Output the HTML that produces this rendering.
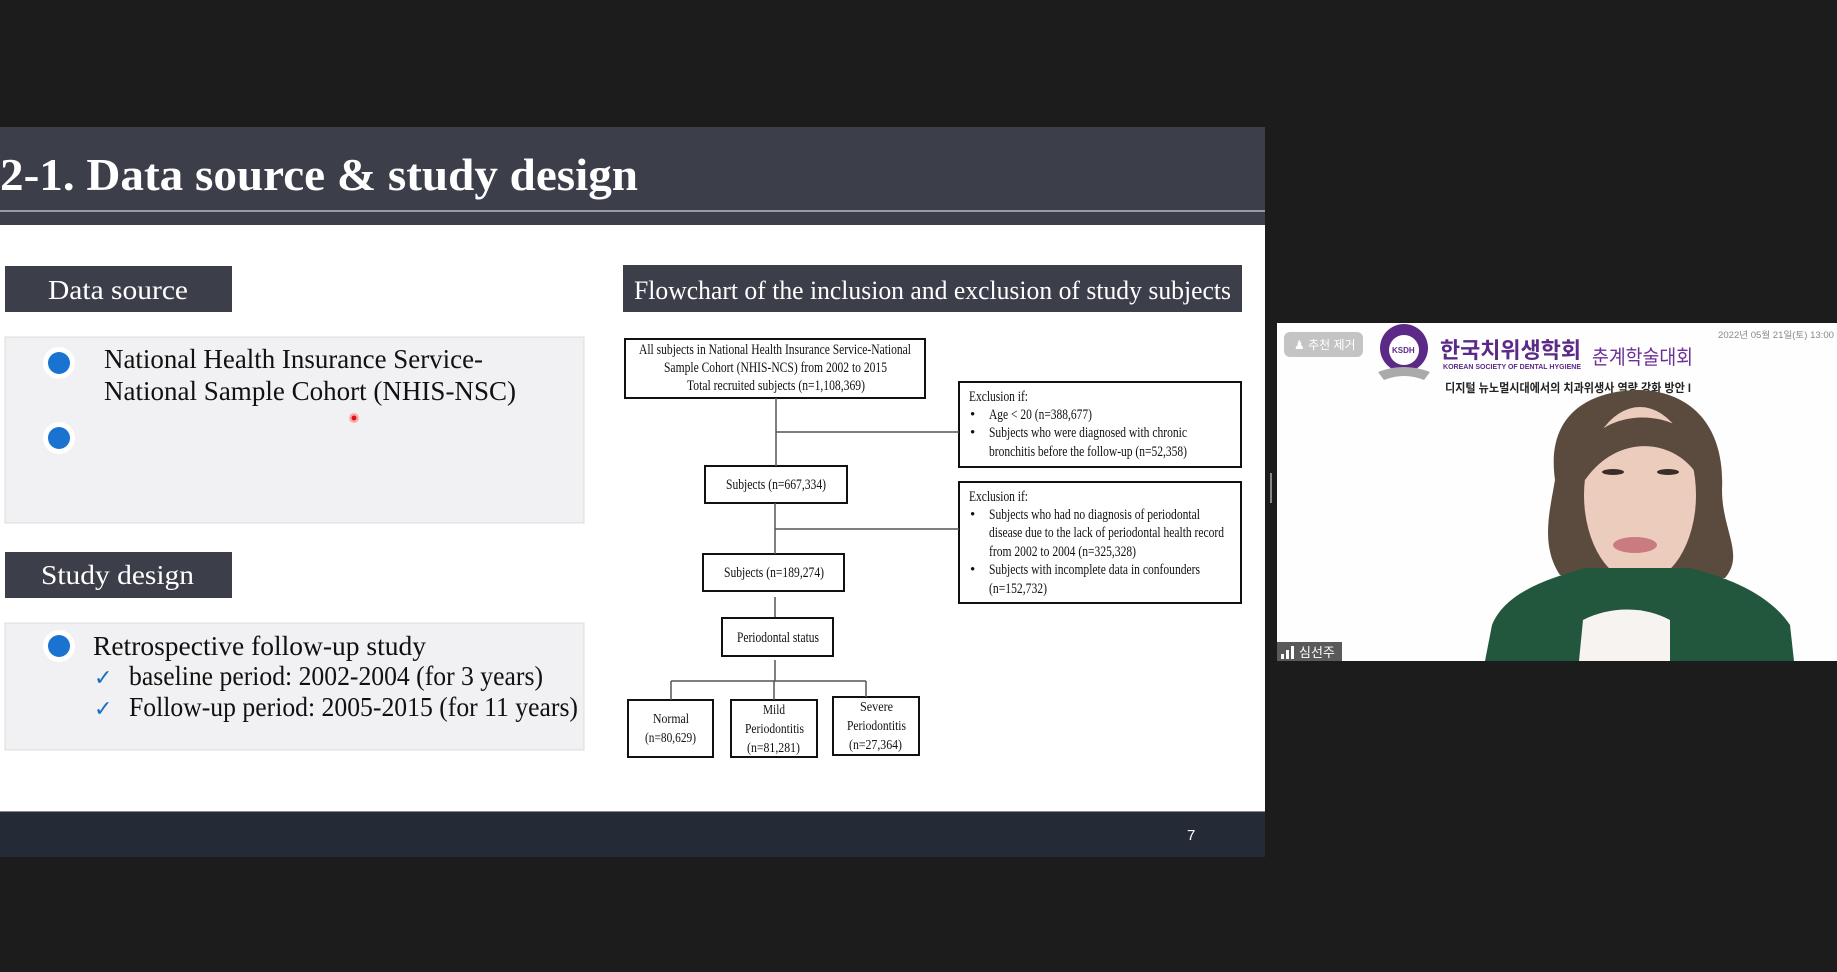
<!DOCTYPE html>
<html><head><meta charset="utf-8"><style>
html,body{margin:0;padding:0;background:#1c1c1c;width:1837px;height:972px;overflow:hidden}
svg{display:block}
.s{font-family:"Liberation Serif",serif}
.k{font-family:"Liberation Sans","Noto Sans CJK KR",sans-serif}
</style></head><body>
<svg width="1837" height="972" viewBox="0 0 1837 972" xmlns="http://www.w3.org/2000/svg">
<rect width="1837" height="972" fill="#1c1c1c"/>
<!-- slide -->
<rect x="0" y="127" width="1265" height="98" fill="#3c3f4a"/>
<line x1="0" y1="211" x2="1265" y2="211" stroke="#b8bac0" stroke-width="1.5"/>
<text class="s" x="0" y="190" font-size="46" font-weight="bold" fill="#fff" textLength="638" lengthAdjust="spacingAndGlyphs">2-1. Data source &amp; study design</text>
<rect x="0" y="225" width="1265" height="587" fill="#fff"/>
<rect x="0" y="811" width="1265" height="1.5" fill="#888"/>
<rect x="0" y="812" width="1265" height="45" fill="#252a37"/>
<text class="k" x="1187" y="840" font-size="15" fill="#fff">7</text>

<!-- left -->
<rect x="5" y="266" width="227" height="46" fill="#3c3f4a"/>
<text class="s" x="48" y="299" font-size="27" fill="#fff" textLength="140" lengthAdjust="spacingAndGlyphs">Data source</text>
<rect x="5" y="337" width="579" height="186" fill="#f1f0f2" stroke="#dcdcdc"/>
<circle cx="59" cy="363" r="16" fill="#fff"/><circle cx="59" cy="363" r="11" fill="#1a73d0"/>
<circle cx="59" cy="438" r="16" fill="#fff"/><circle cx="59" cy="438" r="11" fill="#1a73d0"/>
<text class="s" x="104" y="368" font-size="27" fill="#111" textLength="379" lengthAdjust="spacingAndGlyphs">National Health Insurance Service-</text>
<text class="s" x="104" y="400" font-size="27" fill="#111" textLength="412" lengthAdjust="spacingAndGlyphs">National Sample Cohort (NHIS-NSC)</text>
<circle cx="354" cy="418" r="5" fill="#f5b0b0"/><circle cx="354" cy="418" r="2.5" fill="#e01010"/>

<rect x="5" y="552" width="227" height="46" fill="#3c3f4a"/>
<text class="s" x="41" y="584" font-size="27" fill="#fff" textLength="153" lengthAdjust="spacingAndGlyphs">Study design</text>
<rect x="5" y="623" width="579" height="127" fill="#f1f0f2" stroke="#dcdcdc"/>
<circle cx="59" cy="646" r="16" fill="#fff"/><circle cx="59" cy="646" r="11" fill="#1a73d0"/>
<text class="s" x="93" y="655" font-size="27" fill="#111" textLength="333" lengthAdjust="spacingAndGlyphs">Retrospective follow-up  study</text>
<text x="94" y="685" font-size="22" fill="#1a6fc0" font-family="DejaVu Sans">✓</text>
<text x="94" y="716" font-size="22" fill="#1a6fc0" font-family="DejaVu Sans">✓</text>
<text class="s" x="129" y="685" font-size="27" fill="#111" textLength="414" lengthAdjust="spacingAndGlyphs">baseline period: 2002-2004 (for 3 years)</text>
<text class="s" x="129" y="716" font-size="27" fill="#111" textLength="449" lengthAdjust="spacingAndGlyphs">Follow-up period: 2005-2015 (for 11 years)</text>

<!-- flowchart header -->
<rect x="623" y="265" width="619" height="47" fill="#3c3f4a"/>
<text class="s" x="634" y="299" font-size="26" fill="#fff" textLength="597" lengthAdjust="spacingAndGlyphs">Flowchart of the inclusion and exclusion of study subjects</text>

<g stroke="#111" stroke-width="2" fill="none">
<rect x="625" y="339" width="300" height="59"/>
<rect x="959" y="382" width="282" height="85"/>
<rect x="959" y="482" width="282" height="121"/>
<rect x="705" y="466" width="142" height="37"/>
<rect x="703" y="554" width="141" height="37"/>
<rect x="722" y="618" width="111" height="38"/>
<rect x="628" y="700" width="85" height="57"/>
<rect x="731" y="700" width="86" height="57"/>
<rect x="833" y="697" width="86" height="58"/>
</g>
<g stroke="#555" stroke-width="1.5">
<line x1="776" y1="398" x2="776" y2="466"/>
<line x1="776" y1="432" x2="959" y2="432"/>
<line x1="775" y1="503" x2="775" y2="554"/>
<line x1="775" y1="529" x2="959" y2="529"/>
<line x1="775" y1="597" x2="775" y2="617"/>
<line x1="775" y1="660" x2="775" y2="681"/>
<line x1="671" y1="681" x2="866" y2="681"/>
<line x1="671" y1="681" x2="671" y2="700"/>
<line x1="774" y1="681" x2="774" y2="700"/>
<line x1="866" y1="681" x2="866" y2="697"/>
</g>
<g class="s" font-size="15" fill="#111">
<text x="639" y="354" textLength="272" lengthAdjust="spacingAndGlyphs">All subjects in National Health Insurance Service-National</text>
<text x="664" y="372" textLength="223" lengthAdjust="spacingAndGlyphs">Sample Cohort (NHIS-NCS) from 2002 to 2015</text>
<text x="687" y="390" textLength="178" lengthAdjust="spacingAndGlyphs">Total recruited subjects (n=1,108,369)</text>
<text x="969" y="401" textLength="59" lengthAdjust="spacingAndGlyphs">Exclusion if:</text>
<text x="970" y="419">•</text><text x="989" y="419" textLength="103" lengthAdjust="spacingAndGlyphs">Age &lt; 20 (n=388,677)</text>
<text x="970" y="437">•</text><text x="989" y="437" textLength="198" lengthAdjust="spacingAndGlyphs">Subjects who were diagnosed with chronic</text>
<text x="989" y="456" textLength="198" lengthAdjust="spacingAndGlyphs">bronchitis before the follow-up (n=52,358)</text>
<text x="969" y="501" textLength="59" lengthAdjust="spacingAndGlyphs">Exclusion if:</text>
<text x="970" y="519">•</text><text x="989" y="519" textLength="211" lengthAdjust="spacingAndGlyphs">Subjects who had no diagnosis of periodontal</text>
<text x="989" y="537" textLength="235" lengthAdjust="spacingAndGlyphs">disease due to the lack of periodontal health record</text>
<text x="989" y="556" textLength="147" lengthAdjust="spacingAndGlyphs">from 2002 to 2004 (n=325,328)</text>
<text x="970" y="574">•</text><text x="989" y="574" textLength="211" lengthAdjust="spacingAndGlyphs">Subjects with incomplete data in confounders</text>
<text x="989" y="593" textLength="58" lengthAdjust="spacingAndGlyphs">(n=152,732)</text>
<text x="726" y="489" textLength="100" lengthAdjust="spacingAndGlyphs">Subjects (n=667,334)</text>
<text x="724" y="577" textLength="100" lengthAdjust="spacingAndGlyphs">Subjects (n=189,274)</text>
<text x="737" y="642" textLength="82" lengthAdjust="spacingAndGlyphs">Periodontal status</text>
<text x="653" y="723" font-size="14" textLength="36" lengthAdjust="spacingAndGlyphs">Normal</text><text x="645" y="742" font-size="14" textLength="51" lengthAdjust="spacingAndGlyphs">(n=80,629)</text>
<text x="763" y="714" font-size="14" textLength="22" lengthAdjust="spacingAndGlyphs">Mild</text><text x="745" y="733" font-size="14" textLength="59" lengthAdjust="spacingAndGlyphs">Periodontitis</text><text x="747" y="752" font-size="14" textLength="53" lengthAdjust="spacingAndGlyphs">(n=81,281)</text>
<text x="860" y="711" font-size="14" textLength="33" lengthAdjust="spacingAndGlyphs">Severe</text><text x="847" y="730" font-size="14" textLength="59" lengthAdjust="spacingAndGlyphs">Periodontitis</text><text x="849" y="749" font-size="14" textLength="53" lengthAdjust="spacingAndGlyphs">(n=27,364)</text>
</g>

<!-- video panel -->
<rect x="1277" y="323" width="560" height="338" fill="#fefefe"/>
<rect x="1270" y="473" width="2" height="30" fill="#888"/>
<rect x="1284" y="332" width="79" height="25" rx="6" fill="#c4c4c4"/>
<text class="k" x="1294" y="349" font-size="12" fill="#fff">♟ 추천 제거</text>
<circle cx="1404" cy="348" r="24" fill="#5b2a86"/><circle cx="1404" cy="350" r="15" fill="#fff"/>
<text class="k" x="1392" y="353" font-size="8" font-weight="bold" fill="#5b2a86">KSDH</text>
<path d="M1378 372 Q1404 362 1430 372 L1424 380 Q1404 372 1384 380Z" fill="#aaa"/>
<text class="k" x="1440" y="358" font-size="22" font-weight="bold" fill="#5b2a86" textLength="141" lengthAdjust="spacingAndGlyphs">한국치위생학회</text>
<text class="k" x="1443" y="369" font-size="7" font-weight="bold" fill="#5b2a86" textLength="138" lengthAdjust="spacingAndGlyphs">KOREAN SOCIETY OF DENTAL HYGIENE</text>
<text class="k" x="1592" y="364" font-size="20" fill="#6b2f95" textLength="101" lengthAdjust="spacingAndGlyphs">춘계학술대회</text>
<text class="k" x="1718" y="338" font-size="9" fill="#888" textLength="116" lengthAdjust="spacingAndGlyphs">2022년 05월 21일(토) 13:00</text>
<text class="k" x="1445" y="392" font-size="12" font-weight="bold" fill="#222" textLength="246" lengthAdjust="spacingAndGlyphs">디지털 뉴노멀시대에서의 치과위생사 역량 강화 방안 I</text>
<!-- person -->
<path d="M1555 480 C1545 410 1595 390 1640 390 C1695 392 1725 430 1722 490 C1722 530 1745 555 1725 578 L1560 575 C1540 545 1550 510 1555 480Z" fill="#5a4b3e"/>
<ellipse cx="1640" cy="495" rx="56" ry="88" fill="#ecccbc"/>
<path d="M1585 455 C1592 415 1660 405 1690 435 L1700 480 C1680 440 1620 430 1585 480Z" fill="#5a4b3e"/>
<ellipse cx="1613" cy="472" rx="11" ry="3" fill="#3a2e28"/><ellipse cx="1668" cy="472" rx="11" ry="3" fill="#3a2e28"/>
<ellipse cx="1635" cy="545" rx="22" ry="8" fill="#c97b80"/>
<path d="M1485 661 L1492 625 C1505 592 1550 578 1585 568 L1690 568 C1730 578 1770 595 1790 625 L1794 661Z" fill="#22573e"/>
<path d="M1579 661 L1583 620 C1610 606 1645 606 1670 620 L1670 661Z" fill="#f6f3f0"/>
<rect x="1277" y="642" width="65" height="19" fill="#5a5a5a"/>
<rect x="1281" y="654" width="3" height="5" fill="#fff"/><rect x="1286" y="650" width="3" height="9" fill="#fff"/><rect x="1291" y="646" width="3" height="13" fill="#fff"/>
<text class="k" x="1299" y="657" font-size="13" fill="#fff">심선주</text>
</svg>
</body></html>
